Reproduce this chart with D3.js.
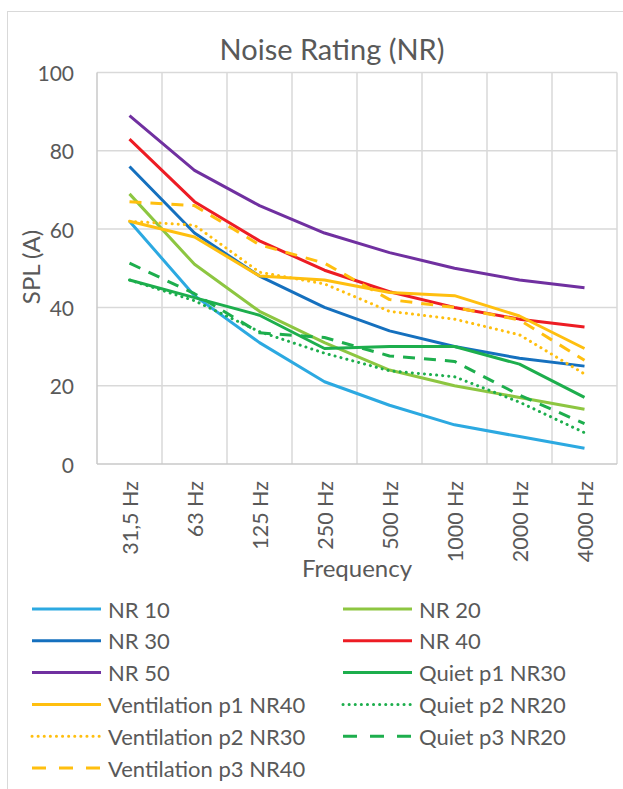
<!DOCTYPE html>
<html>
<head>
<meta charset="utf-8">
<script src="https://cdn.jsdelivr.net/npm/d3@7"></script>
<style>
  body { margin: 0; background: #fff; }
  text { font-family: Lato, "Open Sans", sans-serif; fill: #595959; }
</style>
</head>
<body>
<div id="chart"></div>
<script>
const frequencies = ["31,5 Hz", "63 Hz", "125 Hz", "250 Hz", "500 Hz", "1000 Hz", "2000 Hz", "4000 Hz"];
const yTicks = [0, 20, 40, 60, 80, 100];

const nr10 = [62, 43, 31, 21, 15, 10, 7, 4];
const nr20 = [69, 51, 39, 31, 24, 20, 17, 14];
const nr30 = [76, 59, 48, 40, 34, 30, 27, 25];
const nr40 = [83, 67, 57, 49.5, 44, 40, 37, 35];
const nr50 = [89, 75, 66, 59, 54, 50, 47, 45];
const quietP1 = [47, 42.5, 38, 29.5, 30, 30, 25.5, 17];
const ventP1 = [62, 58, 48, 47, 43.8, 43, 37.8, 29.5];
const quietP2 = [47, 41.7, 33.8, 28.3, 23.8, 22.3, 15.8, 8];
const ventP2 = [62, 61, 49, 46, 39, 37, 33, 23];
const quietP3 = [51.3, 43.5, 33.5, 32.3, 27.6, 26.2, 17.6, 10.3];
const ventP3 = [67, 66, 56, 51.3, 42, 40, 36.8, 26.5];

const series = [
  { name: "NR 10", values: nr10, color: "#2ca9e1", style: "solid" },
  { name: "NR 20", values: nr20, color: "#8dc641", style: "solid" },
  { name: "NR 30", values: nr30, color: "#1570be", style: "solid" },
  { name: "NR 40", values: nr40, color: "#ed1c24", style: "solid" },
  { name: "NR 50", values: nr50, color: "#7030a0", style: "solid" },
  { name: "Quiet p1 NR30", values: quietP1, color: "#1dae4d", style: "solid" },
  { name: "Ventilation p1 NR40", values: ventP1, color: "#ffbf0f", style: "solid" },
  { name: "Quiet p2 NR20", values: quietP2, color: "#1dae4d", style: "dot" },
  { name: "Ventilation p2 NR30", values: ventP2, color: "#ffbf0f", style: "dot" },
  { name: "Quiet p3 NR20", values: quietP3, color: "#1dae4d", style: "dash" },
  { name: "Ventilation p3 NR40", values: ventP3, color: "#ffbf0f", style: "dash" }
];

const W = 623, H = 789;
const plot = { left: 97, right: 617, top: 72.5, bottom: 464 };

const svg = d3.select("#chart").append("svg")
  .attr("width", W).attr("height", H);

// chart frame
svg.append("rect")
  .attr("x", 7.5).attr("y", 11.5)
  .attr("width", 700).attr("height", 900)
  .attr("fill", "#fff").attr("stroke", "#d9d9d9");

const x = d3.scaleBand().domain(frequencies).range([plot.left, plot.right]);
const y = d3.scaleLinear().domain([0, 100]).range([plot.bottom, plot.top]);

// gridlines
const grid = svg.append("g");
grid.selectAll(".hg").data(yTicks.filter(d => d > 0)).enter().append("line")
  .attr("x1", plot.left).attr("x2", plot.right)
  .attr("y1", d => y(d)).attr("y2", d => y(d))
  .attr("stroke", "#d9d9d9").attr("stroke-width", 1.5);
grid.selectAll(".vg").data(frequencies.slice(1).concat(["end"])).enter().append("line")
  .attr("x1", d => d === "end" ? plot.right : x(d))
  .attr("x2", d => d === "end" ? plot.right : x(d))
  .attr("y1", plot.top).attr("y2", plot.bottom)
  .attr("stroke", "#d9d9d9").attr("stroke-width", 1.5);

// axes lines
svg.append("line").attr("x1", plot.left).attr("x2", plot.left)
  .attr("y1", plot.top).attr("y2", plot.bottom)
  .attr("stroke", "#c8c8c8").attr("stroke-width", 1.5);
svg.append("line").attr("x1", plot.left).attr("x2", plot.right)
  .attr("y1", plot.bottom).attr("y2", plot.bottom)
  .attr("stroke", "#c8c8c8").attr("stroke-width", 1.5);

// y tick labels
svg.selectAll(".yt").data(yTicks).enter().append("text")
  .attr("x", 74).attr("y", d => y(d))
  .attr("text-anchor", "end").attr("dominant-baseline", "central")
  .attr("font-size", 21).text(d => d);

// x tick labels
svg.selectAll(".xt").data(frequencies).enter().append("text")
  .attr("transform", d => `translate(${x(d) + x.bandwidth() / 2},481) rotate(-90)`)
  .attr("text-anchor", "end").attr("dominant-baseline", "central")
  .attr("font-size", 21.5).text(d => d);

// titles
svg.append("text").attr("x", 332).attr("y", 48)
  .attr("text-anchor", "middle").attr("dominant-baseline", "central")
  .attr("font-size", 29).text("Noise Rating (NR)");
svg.append("text").attr("x", 357).attr("y", 567)
  .attr("text-anchor", "middle").attr("dominant-baseline", "central")
  .attr("font-size", 24).text("Frequency");
svg.append("text").attr("transform", "translate(30,267) rotate(-90)")
  .attr("text-anchor", "middle").attr("dominant-baseline", "central")
  .attr("font-size", 24).text("SPL (A)");

const dash = { solid: null, dot: "0.1 6", dash: "12 9" };

const line = d3.line()
  .x((d, i) => x(frequencies[i]) + x.bandwidth() / 2)
  .y(d => y(d));

svg.append("g").selectAll("path").data(series).enter().append("path")
  .attr("d", d => line(d.values))
  .attr("fill", "none")
  .attr("stroke", d => d.color)
  .attr("stroke-width", 3)
  .attr("stroke-linejoin", "round")
  .attr("stroke-linecap", d => d.style === "dot" ? "round" : "butt")
  .attr("stroke-dasharray", d => dash[d.style]);

// Legend
const legend = svg.append("g");
const items = legend.selectAll("g").data(series).enter().append("g")
  .attr("transform", (d, i) => `translate(${i % 2 === 0 ? 32 : 343},${609 + Math.floor(i / 2) * 31.8})`);
items.append("line")
  .attr("x1", 0).attr("x2", 69).attr("y1", 0).attr("y2", 0)
  .attr("stroke", d => d.color).attr("stroke-width", 3)
  .attr("stroke-linecap", d => d.style === "dot" ? "round" : "butt")
  .attr("stroke-dasharray", d => d.style === "dash" ? "14 13" : dash[d.style]);
items.append("text")
  .attr("x", 76).attr("y", 0)
  .attr("dominant-baseline", "central")
  .attr("font-size", 22).text(d => d.name);
</script>
</body>
</html>
